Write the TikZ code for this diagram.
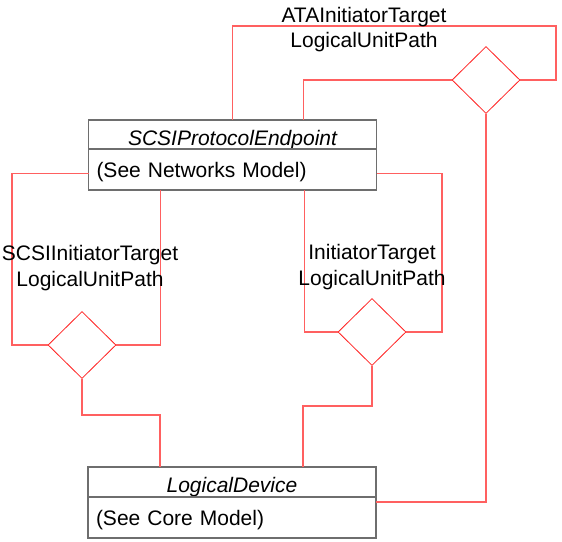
\documentclass[tikz,border=0pt]{standalone}
\usepackage{fontspec}
\setmainfont{Liberation Sans}
\usetikzlibrary{positioning,shapes.geometric}
\definecolor{umlGrey}{HTML}{6E6E6E}
\definecolor{umlRed}{HTML}{FF6060}
\definecolor{umlDia}{HTML}{FF2020}

\begin{document}
\begin{tikzpicture}[x=1pt,y=-1pt,node distance=0pt,
    font=\fontsize{21}{25.5}\selectfont,
    classhead/.style={draw=umlGrey,line width=1.4pt,outer sep=0pt,inner sep=0pt,
      minimum width=288pt,minimum height=29pt,text height=23pt,text depth=2pt,
      font=\fontsize{21}{25.5}\selectfont\itshape},
    classbody/.style={draw=umlGrey,line width=1.4pt,outer sep=0pt,inner xsep=8pt,
      inner ysep=0pt,text width=272pt,align=left,minimum height=41pt,
      text height=28pt,text depth=13pt},
    aggdia/.style={diamond,draw=umlDia,line width=0.8pt,inner sep=0pt,
      minimum width=68pt,minimum height=67pt},
    assoc/.style={draw=umlRed,line width=1.2pt},
    rolelabel/.style={align=center,inner sep=0pt}]
  \useasboundingbox (0,0) rectangle (562,541);

  % classes
  \node[classhead] (scsihead) at (232.5,134.5) {SCSIProtocolEndpoint};
  \node[classbody,below=of scsihead] (scsibody) {(See Networks Model)};
  \node[classhead,minimum height=30pt] (ldhead) at (232,482) {LogicalDevice};
  \node[classbody,below=of ldhead] (ldbody) {(See Core Model)};

  % aggregation diamonds
  \node[aggdia] (atadia) at (486,80) {};
  \node[aggdia] (scsidia) at (82,345) {};
  \node[aggdia] (initdia) at (372,332) {};

  % ATAInitiatorTargetLogicalUnitPath
  \draw[assoc] (scsihead.north) |- (556,26) |- (atadia.east);
  \draw[assoc] (atadia.west) -| ([xshift=71pt]scsihead.north);
  \draw[assoc] (atadia.south) |- ([yshift=-5pt]ldbody.north east);

  % SCSIInitiatorTargetLogicalUnitPath
  \draw[assoc] ([yshift=-4pt]scsibody.west) -| (12,345) -- (scsidia.west);
  \draw[assoc] ([xshift=-72pt]scsibody.south) |- (scsidia.east);
  \draw[assoc] (scsidia.south) -- ++(0,36) -| ([xshift=-72pt]ldhead.north);

  % InitiatorTargetLogicalUnitPath
  \draw[assoc] ([xshift=72pt]scsibody.south) |- (initdia.west);
  \draw[assoc] ([yshift=-4pt]scsibody.east) -| (442,332) -- (initdia.east);
  \draw[assoc] (initdia.south) -- ++(0,40) -| ([xshift=71pt]ldhead.north);

  % association names
  \node[rolelabel] (atalabel) at (364,29.5) {ATAInitiatorTarget\\LogicalUnitPath};
  \node[rolelabel] (scsilabel) at (90,268) {SCSIInitiatorTarget\\LogicalUnitPath};
  \node[rolelabel] (initlabel) at (372,267) {InitiatorTarget\\LogicalUnitPath};
\end{tikzpicture}
\end{document}
